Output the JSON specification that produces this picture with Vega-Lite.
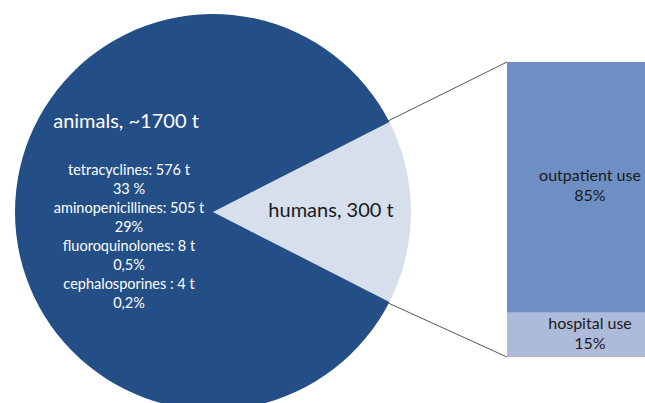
{
  "$schema": "https://vega.github.io/schema/vega-lite/v6.json",
  "width": 645,
  "height": 403,
  "padding": 0,
  "autosize": {"type": "none"},
  "background": "white",
  "config": {"view": {"stroke": null}, "font": "Lato"},
  "datasets": {
    "split": [
      {"group": "humans", "t": 300, "label": "humans, 300 t"},
      {"group": "animals", "t": 1700, "label": "animals, ~1700 t"}
    ],
    "classes": [
      {"class": "tetracyclines", "label": "tetracyclines:  576 t\n33 %"},
      {"class": "aminopenicillines", "label": "aminopenicillines:  505 t\n29%"},
      {"class": "fluoroquinolones", "label": "fluoroquinolones:  8 t\n0,5%"},
      {"class": "cephalosporines", "label": "cephalosporines :   4 t\n0,2%"}
    ],
    "humanuse": [
      {"use": "outpatient use", "pct": 85, "label": "outpatient use\n85%"},
      {"use": "hospital use", "pct": 15, "label": "hospital use\n15%"}
    ],
    "one": [{}]
  },
  "resolve": {"scale": {"y": "independent", "color": "independent"}},
  "layer": [
    {
      "data": {"name": "split"},
      "transform": [{"stack": "t", "groupby": [], "sort": [{"field": "t", "order": "ascending"}], "as": ["t0", "t1"]}],
      "mark": {"type": "arc", "radius": 198},
      "encoding": {
        "x": {"datum": 213, "type": "quantitative", "stack": null, "scale": {"domain": [0, 645], "nice": false, "zero": false}, "axis": null},
        "y": {"datum": 212, "type": "quantitative", "stack": null, "scale": {"domain": [0, 403], "nice": false, "zero": false, "reverse": true}, "axis": null},
        "theta": {"field": "t0", "type": "quantitative", "scale": {"domain": [0, 2000], "range": [1.0996, 7.3828]}},
        "theta2": {"field": "t1"},
        "color": {"field": "group", "type": "nominal", "scale": {"domain": ["animals", "humans"], "range": ["#234E86", "#D7DFEC"]}, "legend": null}
      }
    },
    {
      "data": {"name": "one"},
      "mark": {"type": "rule", "color": "#555555", "strokeWidth": 1},
      "encoding": {
        "x": {"datum": 386, "type": "quantitative", "stack": null, "scale": {"domain": [0, 645], "nice": false, "zero": false}, "axis": null},
        "y": {"datum": 122, "type": "quantitative", "stack": null, "scale": {"domain": [0, 403], "nice": false, "zero": false, "reverse": true}, "axis": null},
        "x2": {"datum": 507},
        "y2": {"datum": 62}
      }
    },
    {
      "data": {"name": "one"},
      "mark": {"type": "rule", "color": "#555555", "strokeWidth": 1},
      "encoding": {
        "x": {"datum": 386, "type": "quantitative", "stack": null, "scale": {"domain": [0, 645], "nice": false, "zero": false}, "axis": null},
        "y": {"datum": 302, "type": "quantitative", "stack": null, "scale": {"domain": [0, 403], "nice": false, "zero": false, "reverse": true}, "axis": null},
        "x2": {"datum": 507},
        "y2": {"datum": 357}
      }
    },
    {
      "data": {"name": "humanuse"},
      "transform": [{"stack": "pct", "groupby": [], "sort": [{"field": "pct", "order": "ascending"}], "as": ["p0", "p1"]}],
      "mark": {"type": "rect"},
      "encoding": {
        "x": {"datum": 507, "type": "quantitative", "stack": null, "scale": {"domain": [0, 645], "nice": false, "zero": false}, "axis": null},
        "x2": {"datum": 760},
        "y": {"field": "p0", "type": "quantitative", "scale": {"domain": [0, 100], "range": [357, 62], "nice": false, "zero": false}, "axis": null},
        "y2": {"field": "p1"},
        "color": {"field": "use", "type": "nominal", "scale": {"domain": ["outpatient use", "hospital use"], "range": ["#6E8FC4", "#ADBAD9"]}, "legend": null}
      }
    },
    {
      "data": {"name": "humanuse"},
      "mark": {"type": "text", "fontSize": 16, "color": "#1a1a1a", "lineBreak": "\n", "lineHeight": 20, "baseline": "middle", "align": "center", "dy": -11},
      "encoding": {
        "x": {"datum": 590, "type": "quantitative", "scale": {"domain": [0, 645], "nice": false, "zero": false}, "axis": null},
        "y": {"field": "pct", "type": "quantitative", "stack": "zero", "bandPosition": 0.5, "scale": {"domain": [0, 100], "range": [357, 62], "nice": false, "zero": false}, "axis": null},
        "order": {"field": "pct", "sort": "ascending"},
        "text": {"field": "label"}
      }
    },
    {
      "data": {"name": "split"},
      "transform": [{"filter": "datum.group === 'humans'"}],
      "mark": {"type": "text", "fontSize": 20, "color": "#1a1a1a", "baseline": "middle", "align": "center"},
      "encoding": {
        "x": {"datum": 331, "type": "quantitative", "stack": null, "scale": {"domain": [0, 645], "nice": false, "zero": false}, "axis": null},
        "y": {"datum": 211, "type": "quantitative", "stack": null, "scale": {"domain": [0, 403], "nice": false, "zero": false, "reverse": true}, "axis": null},
        "text": {"field": "label"}
      }
    },
    {
      "data": {"name": "split"},
      "transform": [{"filter": "datum.group === 'animals'"}],
      "mark": {"type": "text", "fontSize": 20, "color": "white", "baseline": "middle", "align": "center"},
      "encoding": {
        "x": {"datum": 126, "type": "quantitative", "stack": null, "scale": {"domain": [0, 645], "nice": false, "zero": false}, "axis": null},
        "y": {"datum": 122, "type": "quantitative", "stack": null, "scale": {"domain": [0, 403], "nice": false, "zero": false, "reverse": true}, "axis": null},
        "text": {"field": "label"}
      }
    },
    {
      "data": {"name": "classes"},
      "mark": {"type": "text", "fontSize": 14.5, "color": "white", "lineBreak": "\n", "lineHeight": 19, "baseline": "middle", "align": "center"},
      "encoding": {
        "x": {"datum": 129, "type": "quantitative", "stack": null, "scale": {"domain": [0, 645], "nice": false, "zero": false}, "axis": null},
        "y": {"field": "class", "type": "nominal", "sort": null, "scale": {"type": "point", "range": [171, 285], "padding": 0}, "axis": null},
        "text": {"field": "label"}
      }
    }
  ]
}
